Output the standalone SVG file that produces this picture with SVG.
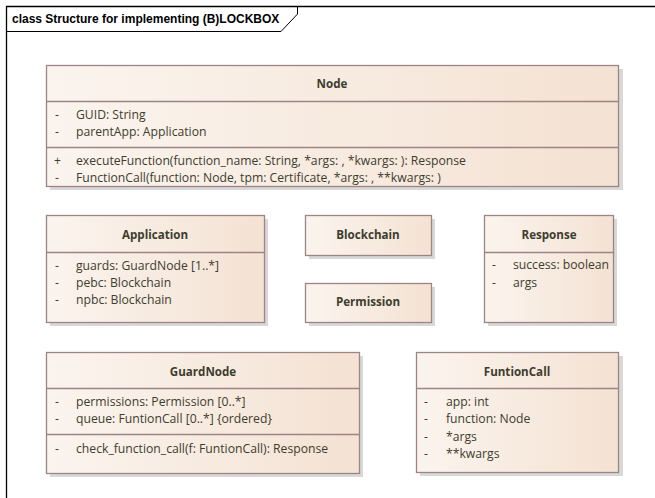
<svg xmlns="http://www.w3.org/2000/svg" width="655" height="498" viewBox="0 0 655 498">
<defs>
<linearGradient id="g" x1="0" y1="0" x2="1" y2="0">
<stop offset="0" stop-color="#fbf4ee"/>
<stop offset="1" stop-color="#f4e2d3"/>
</linearGradient>
<style>
.box{fill:url(#g);stroke:#9c8585;stroke-width:1.3}
.sh{fill:#d8d8d8}
.ln{stroke:#9c8585;stroke-width:1.3}
text{font-family:"Open Sans","Liberation Sans",Arial,sans-serif;font-size:12.2px;fill:#3d3d2e}
.t{font-weight:bold;text-anchor:middle;font-size:11.6px}
.ttl{font-weight:bold;fill:#000;font-family:"Liberation Sans",Arial,sans-serif;font-size:12px}
</style>
</defs>
<rect width="655" height="498" fill="#fff"/>
<g id="frame">
<path d="M6.5 498 V6.5 H655" fill="none" stroke="#000" stroke-width="1.3"/>
<path d="M6.5 31.5 H281 L297.5 14 V6.5" fill="none" stroke="#000" stroke-width="1"/>
<text class="ttl" x="12" y="23">class Structure for implementing (B)LOCKBOX</text>
</g>
<g id="Node">
<rect class="sh" x="50" y="69" width="573" height="121"/>
<rect class="box" x="46.5" y="65.5" width="572" height="121"/>
<line class="ln" x1="46.5" y1="101.5" x2="618.5" y2="101.5"/>
<line class="ln" x1="46.5" y1="147.5" x2="618.5" y2="147.5"/>
<text class="t" x="332" y="88">Node</text>
<text x="55" y="119">-</text><text x="76" y="119">GUID: String</text>
<text x="55" y="136">-</text><text x="76" y="136">parentApp: Application</text>
<text x="54" y="165">+</text><text x="76" y="165">executeFunction(function_name: String, *args: , *kwargs: ): Response</text>
<text x="55" y="182">-</text><text x="76" y="182">FunctionCall(function: Node, tpm: Certificate, *args: , **kwargs: )</text>
</g>
<g id="Application">
<rect class="sh" x="50" y="219" width="218" height="107"/>
<rect class="box" x="46.5" y="215.5" width="218" height="107"/>
<line class="ln" x1="46.5" y1="252.5" x2="264.5" y2="252.5"/>
<text class="t" x="155" y="239">Application</text>
<text x="55" y="270">-</text><text x="76" y="270">guards: GuardNode [1..*]</text>
<text x="55" y="287">-</text><text x="76" y="287">pebc: Blockchain</text>
<text x="55" y="304">-</text><text x="76" y="304">npbc: Blockchain</text>
</g>
<g id="Blockchain">
<rect class="sh" x="309" y="219" width="126" height="40"/>
<rect class="box" x="305.5" y="215.5" width="126" height="40"/>
<text class="t" x="368" y="239">Blockchain</text>
</g>
<g id="Permission">
<rect class="sh" x="309" y="287" width="126" height="39"/>
<rect class="box" x="305.5" y="283.5" width="126" height="39"/>
<text class="t" x="368" y="306">Permission</text>
</g>
<g id="Response">
<rect class="sh" x="488" y="219" width="129" height="107"/>
<rect class="box" x="484.5" y="215.5" width="129" height="107"/>
<line class="ln" x1="484.5" y1="252.5" x2="613.5" y2="252.5"/>
<text class="t" x="549" y="239">Response</text>
<text x="492" y="269">-</text><text x="513" y="269">success: boolean</text>
<text x="492" y="287">-</text><text x="513" y="287">args</text>
</g>
<g id="GuardNode">
<rect class="sh" x="50" y="356" width="313" height="121"/>
<rect class="box" x="46.5" y="352.5" width="313" height="121"/>
<line class="ln" x1="46.5" y1="388.5" x2="359.5" y2="388.5"/>
<line class="ln" x1="46.5" y1="434.5" x2="359.5" y2="434.5"/>
<text class="t" x="203" y="376">GuardNode</text>
<text x="55" y="406">-</text><text x="76" y="406">permissions: Permission [0..*]</text>
<text x="55" y="423">-</text><text x="76" y="423">queue: FuntionCall [0..*] {ordered}</text>
<text x="55" y="453">-</text><text x="76" y="453">check_function_call(f: FuntionCall): Response</text>
</g>
<g id="FuntionCall">
<rect class="sh" x="420" y="356" width="203" height="120"/>
<rect class="box" x="416.5" y="352.5" width="202" height="120"/>
<line class="ln" x1="416.5" y1="388.5" x2="618.5" y2="388.5"/>
<text class="t" x="517" y="376">FuntionCall</text>
<text x="424" y="406">-</text><text x="446" y="406">app: int</text>
<text x="424" y="423">-</text><text x="446" y="423">function: Node</text>
<text x="424" y="441">-</text><text x="446" y="441">*args</text>
<text x="424" y="458">-</text><text x="446" y="458">**kwargs</text>
</g>
<g id="connectors"/>
</svg>
